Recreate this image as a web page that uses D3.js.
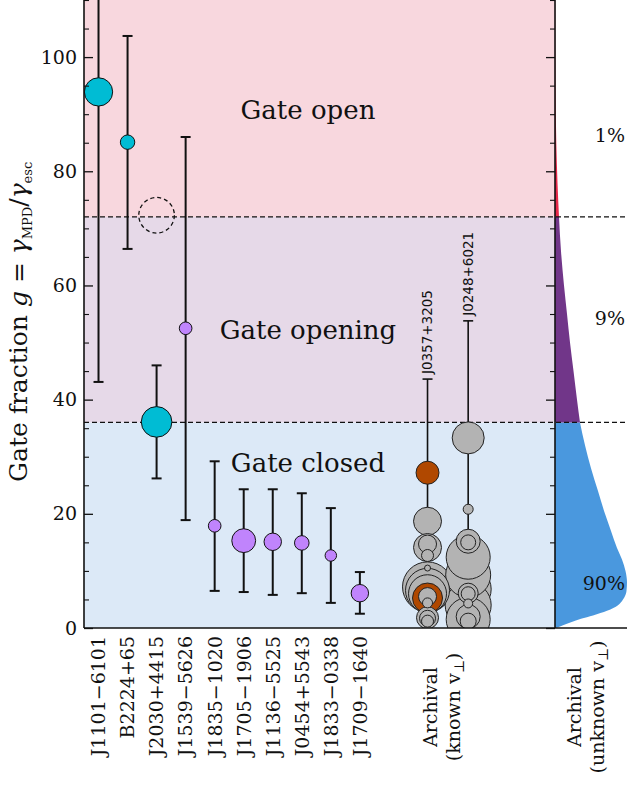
<!DOCTYPE html>
<html><head><meta charset="utf-8">
<script src="https://cdn.jsdelivr.net/npm/d3@7"></script>
<style>body{margin:0;background:#fff}svg{display:block}</style>
</head><body><svg id="c" width="627" height="788"></svg>
<script>
// ---------- data ----------
const categories = ["J1101−6101","B2224+65","J2030+4415","J1539−5626","J1835−1020","J1705−1906","J1136−5525","J0454+5543","J1833−0338","J1709−1640"];
const gValue  = [93.9, 85.1, 36.1, 52.5, 17.9, 15.3, 15.1, 14.9, 12.7, 6.1];
const gLow    = [43.1, 66.4, 26.2, 18.9,  6.5,  6.3,  5.8,  6.1,  4.4, 2.5];
const gHigh   = [130,  103.7, 46.0, 86.0, 29.2, 24.3, 24.3, 23.6, 21.0, 9.8];
const weight  = [200, 52, 234, 40, 40, 142, 76, 53, 33, 76];
const group   = ["young","young","young","old","old","old","old","old","old","old"];
// J2030+4415 alternative (dashed) estimate
const altCategory = 2, altValue = 72.3, altWeight = 317;

const regionBounds = [0, 36, 72, 110];
const regionNames  = ["Gate closed","Gate opening","Gate open"];
const regionLabelG = [27.3, 50.6, 89.1];

const archivalNames = ["J0357+3205","J0248+6021"];
const archivalErrHigh = [43.6, 53.8];
const archivalErrLow  = [12, 14];
// archival points with known v_perp
const arcCol    = [0,0,0,0,0,0,0,0,0,0,0,0,0,0,0, 1,1,1,1,1,1,1,1,1,1,1,1,1,1];
const arcG      = [27.2,18.7,14.1,14.7,12.7,10.5,7.2,6.6,6.0,5.25,5.5,4.4,1.8,1.7,1.2,
                   33.3,20.8,15.2,15.0,12.4,9.3,6.8,4.0,1.5,6.1,6.0,4.3,2.0,1.2];
const arcW      = [132,196,196,81,36,9,625,484,361,225,81,25,121,64,36,
                   256,25,144,56,484,506,529,529,484,100,49,20,144,64];
const arcKind   = ["hi","lo","lo","lo","lo","lo","lo","lo","lo","hi","lo","lo","lo","lo","lo",
                   "lo","lo","lo","lo","lo","lo","lo","lo","lo","lo","lo","lo","lo","lo"];

// archival (unknown v_perp) distribution of g
const densityG   = [0,0.5,1,1.6,2.2,3,4,5,6.5,8,10,12,14,17,20,24,28,32,36,40,45,50,55,60,66,72,78,85,95,110];
const densityVal = [1,8,16,26,38,52,63,68,71.5,72,70.5,67,62,56,50,43,36,30,25,22,18.5,15,12,9,6,4,2.5,1.3,0.5,0.2];
const percentText = ["90%","9%","1%"];
const percentG    = [7.9, 54.3, 86.3];

const yTicks = [0,20,40,60,80,100];

// ---------- layout ----------
const L=84, R=555, RP=627, T=0, B=628;
const font = "'DejaVu Serif', serif";
const svg = d3.select("#c");
const y = d3.scaleLinear().domain([0,110]).range([B,T]);
const x = d3.scaleLinear().domain([-0.5,15.72]).range([L,R]);
const archX = [11.33, 12.73];
const r = d3.scaleSqrt().domain([0,400]).range([0,20]);
const dx = d3.scaleLinear().domain([0,72]).range([R,RP]);

const regionFill = ["#dce9f7","#e6d9e8","#f8d7de"];
const densFill   = ["#4a98de","#713689","#e8294a"];
const groupFill  = {young:"#00bcd4", old:"#c084fc"};
const arcFill    = {hi:"#b04800", lo:"#b3b3b3"};

svg.append("defs").append("clipPath").attr("id","main")
  .append("rect").attr("x",L).attr("y",T).attr("width",R-L).attr("height",B-T);

// region backgrounds
svg.selectAll("rect.reg").data(regionFill).join("rect")
  .attr("x",L).attr("width",R-L)
  .attr("y",(d,i)=>y(regionBounds[i+1])).attr("height",(d,i)=>y(regionBounds[i])-y(regionBounds[i+1]))
  .attr("fill",d=>d);

// density in right panel
const pts = densityG.map((g,i)=>({g, v:densityVal[i]}));
const area = d3.area().y(d=>y(d.g)).x0(R).x1(d=>dx(d.v)).curve(d3.curveMonotoneY);
for(let k=0;k<3;k++){
  const seg = pts.filter(p=>p.g>=regionBounds[k] && p.g<=regionBounds[k+1]);
  svg.append("path").attr("d",area(seg)).attr("fill",densFill[k]);
}

// dashed boundaries
svg.selectAll("line.bnd").data([36,72]).join("line")
  .attr("x1",L).attr("x2",RP).attr("y1",d=>y(d)).attr("y2",d=>y(d))
  .attr("stroke","#111").attr("stroke-width",1.3).attr("stroke-dasharray","5,3");

// region labels
svg.selectAll("text.reg").data(regionNames).join("text")
  .attr("x",308).attr("y",(d,i)=>y(regionLabelG[i]))
  .attr("text-anchor","middle").attr("font-family",font).attr("font-size",26)
  .attr("fill","#111").text(d=>d);

// percent labels
svg.selectAll("text.pct").data(percentText).join("text")
  .attr("x",625).attr("y",(d,i)=>y(percentG[i])).attr("dy","0.36em")
  .attr("text-anchor","end").attr("font-family",font).attr("font-size",19).attr("fill","#111").text(d=>d);

const plot = svg.append("g").attr("clip-path","url(#main)");

// error bars
function errBar(cx, lo, hi, w){
  plot.append("line").attr("x1",cx).attr("x2",cx).attr("y1",y(lo)).attr("y2",y(hi)).attr("stroke","#111").attr("stroke-width",w);
  [lo,hi].forEach(v=>plot.append("line").attr("x1",cx-5).attr("x2",cx+5).attr("y1",y(v)).attr("y2",y(v)).attr("stroke","#111").attr("stroke-width",w));
}
categories.forEach((c,i)=>errBar(x(i), gLow[i], gHigh[i], 2));
archivalNames.forEach((c,i)=>errBar(x(archX[i]), archivalErrLow[i], archivalErrHigh[i], 1.6));

// archival points (largest first)
const arc = arcG.map((g,i)=>({g, w:arcW[i], col:arcCol[i], k:arcKind[i]})).sort((a,b)=>b.w-a.w);
plot.selectAll("circle.arc").data(arc).join("circle")
  .attr("cx",d=>x(archX[d.col])).attr("cy",d=>y(d.g)).attr("r",d=>r(d.w))
  .attr("fill",d=>arcFill[d.k]).attr("stroke","#222").attr("stroke-width",1);

// named pulsars
plot.selectAll("circle.psr").data(categories).join("circle")
  .attr("cx",(d,i)=>x(i)).attr("cy",(d,i)=>y(gValue[i])).attr("r",(d,i)=>r(weight[i]))
  .attr("fill",(d,i)=>groupFill[group[i]]).attr("stroke","#111").attr("stroke-width",1);
plot.append("circle").attr("cx",x(altCategory)).attr("cy",y(altValue)).attr("r",r(altWeight))
  .attr("fill","none").attr("stroke","#111").attr("stroke-width",1.3).attr("stroke-dasharray","4,3");

// archival name labels
svg.selectAll("text.an").data(archivalNames).join("text")
  .attr("transform",(d,i)=>`translate(${x(archX[i])},${y(archivalErrHigh[i])-5}) rotate(-90)`)
  .attr("dy","0.36em").attr("font-family","'DejaVu Sans', sans-serif").attr("font-size",13.5)
  .attr("fill","#111").text(d=>d);

// axes
const ax = svg.append("g");
const minor = d3.range(0,111,5).filter(v=>v%20!==0);
ax.append("g").attr("transform",`translate(${L},0)`).call(d3.axisLeft(y).tickValues(yTicks).tickSize(-9).tickPadding(7).tickFormat(d3.format("d")))
  .call(g=>g.select(".domain").remove())
  .call(g=>g.selectAll("text").attr("font-family",font).attr("font-size",19).attr("fill","#111"))
  .call(g=>g.selectAll("line").attr("stroke","#111").attr("stroke-width",1.3));
ax.append("g").attr("transform",`translate(${L},0)`).call(d3.axisLeft(y).tickValues(minor).tickSize(-5).tickFormat(""))
  .call(g=>g.select(".domain").remove()).call(g=>g.selectAll("line").attr("stroke","#111").attr("stroke-width",1.1));
ax.append("g").attr("transform",`translate(${R},0)`).call(d3.axisRight(y).tickValues(yTicks).tickSize(-9).tickFormat(""))
  .call(g=>g.select(".domain").remove()).call(g=>g.selectAll("line").attr("stroke","#111").attr("stroke-width",1.3));
ax.append("g").attr("transform",`translate(${R},0)`).call(d3.axisRight(y).tickValues(minor).tickSize(-5).tickFormat(""))
  .call(g=>g.select(".domain").remove()).call(g=>g.selectAll("line").attr("stroke","#111").attr("stroke-width",1.1));

// frame
ax.append("line").attr("x1",L).attr("x2",L).attr("y1",T).attr("y2",B).attr("stroke","#111").attr("stroke-width",1.6);
ax.append("line").attr("x1",R).attr("x2",R).attr("y1",T).attr("y2",B).attr("stroke","#111").attr("stroke-width",1.6);
ax.append("line").attr("x1",L).attr("x2",RP).attr("y1",B).attr("y2",B).attr("stroke","#111").attr("stroke-width",1.6);

// x tick labels
svg.selectAll("text.xl").data(categories).join("text")
  .attr("transform",(d,i)=>`translate(${x(i)},636) rotate(-90)`)
  .attr("text-anchor","end").attr("dy","0.36em")
  .attr("font-family",font).attr("font-size",19).attr("fill","#111").text(d=>d);

function twoLine(cx, line1, line2word){
  const g = svg.append("g").attr("transform",`translate(${cx},707) rotate(-90)`)
    .attr("font-family",font).attr("font-size",19).attr("fill","#111").attr("text-anchor","middle");
  g.append("text").attr("y",-11).text(line1);
  const t = g.append("text").attr("y",12);
  t.append("tspan").text(`(${line2word} v`);
  t.append("tspan").attr("font-size",14).attr("dy",4).text("⊥");
  t.append("tspan").attr("dy",-4).text(")");
}
twoLine(x(12.03), "Archival", "known");
twoLine(592, "Archival", "unknown");

// y label
const yl = svg.append("text").attr("transform","translate(27,482) rotate(-90)")
  .attr("font-family",font).attr("font-size",25).attr("fill","#111");
yl.append("tspan").text("Gate fraction ");
yl.append("tspan").attr("font-style","italic").text("g");
yl.append("tspan").text(" = ");
yl.append("tspan").attr("font-style","italic").text("γ");
yl.append("tspan").attr("font-size",13).attr("dy",5).text("MPD");
yl.append("tspan").attr("dy",-5).text("/");
yl.append("tspan").attr("font-style","italic").text("γ");
yl.append("tspan").attr("font-size",13).attr("dy",5).text("esc");
</script></body></html>
